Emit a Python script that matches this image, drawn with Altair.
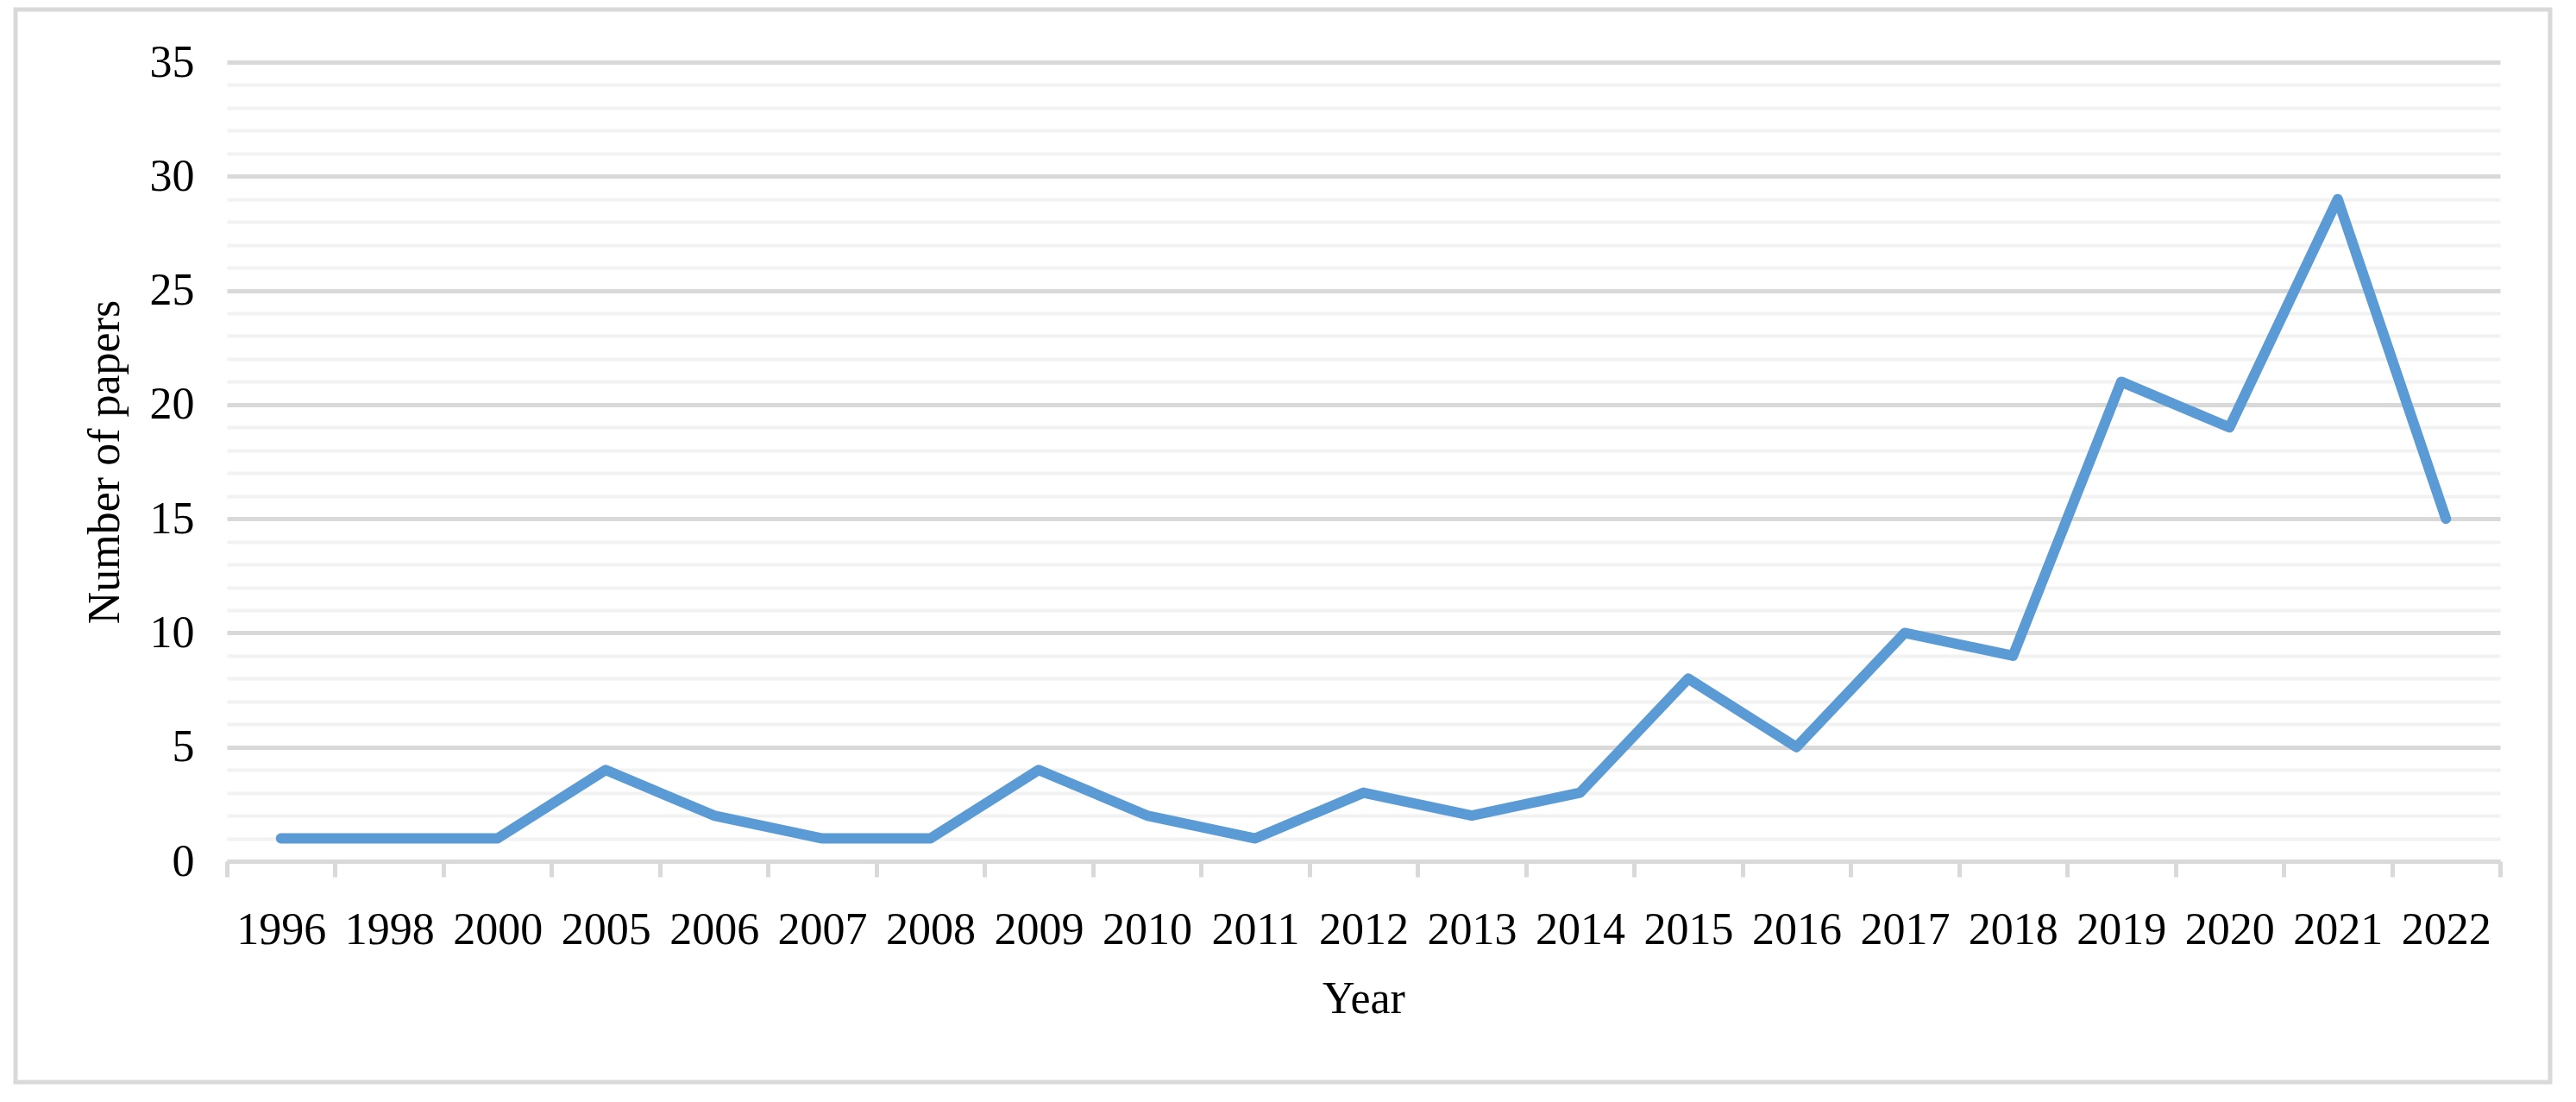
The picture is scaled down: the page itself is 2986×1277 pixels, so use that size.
import altair as alt
import pandas as pd

years = ["1996", "1998", "2000", "2005", "2006", "2007", "2008", "2009", "2010", "2011",
         "2012", "2013", "2014", "2015", "2016", "2017", "2018", "2019", "2020", "2021", "2022"]
papers = [1, 1, 1, 4, 2, 1, 1, 4, 2, 1, 3, 2, 3, 8, 5, 10, 9, 21, 19, 29, 15]
y_ticks = list(range(0, 36))

df = pd.DataFrame({"Year": years, "Papers": papers})

W, H = 2635, 926
FONT = "Liberation Serif"
FS = 52
GRID_MAJOR = "#d9d9d9"
GRID_MINOR = "#f2f2f2"

line = alt.Chart(df).mark_line(
    color="#5b9bd5", strokeWidth=12, strokeCap="round", strokeJoin="round"
).encode(
    x=alt.X(
        "Year:N", sort=years,
        scale=alt.Scale(type="band", paddingInner=0, paddingOuter=0),
        bandPosition=0.5,
        axis=alt.Axis(
            title="Year", labelAngle=0, tickBand="extent", ticks=True, tickSize=18,
            tickColor=GRID_MAJOR, tickWidth=5, domainColor=GRID_MAJOR, domainWidth=5,
            grid=False, labelPadding=36, labelFont=FONT, labelFontSize=FS,
            labelColor="black", titleFont=FONT, titleFontSize=FS, titleFontWeight="normal",
            titleColor="black", titleY=134, titleBaseline="top",
        ),
    ),
    y=alt.Y(
        "Papers:Q",
        scale=alt.Scale(domain=[0, 35], nice=False),
        axis=alt.Axis(
            title="Number of papers", values=y_ticks,
            labelExpr="datum.value % 5 === 0 ? datum.label : ''",
            labelOverlap=False, ticks=False, domain=False,
            grid=True,
            gridColor={"condition": {"test": "datum.value % 5 === 0", "value": GRID_MAJOR},
                       "value": GRID_MINOR},
            gridWidth={"condition": {"test": "datum.value % 5 === 0", "value": 5},
                       "value": 4},
            labelPadding=38, labelFont=FONT, labelFontSize=FS,
            labelColor="black", titleFont=FONT, titleFontSize=FS, titleFontWeight="normal",
            titleColor="black", titleX=-126, titleY=H / 2, titleBaseline="alphabetic",
            titleAlign="center",
        ),
    ),
)

border = alt.Chart(pd.DataFrame({"k": [0]})).mark_rect(
    fillOpacity=0, stroke=GRID_MAJOR, strokeWidth=5
).encode(
    x=alt.value(-245), x2=alt.value(2693), y=alt.value(-61), y2=alt.value(1182)
)

chart = alt.layer(border, line).properties(
    width=W, height=H,
    padding={"left": 255, "top": 64, "right": 70, "bottom": 265},
    autosize=alt.AutoSizeParams(type="none"),
    background="white",
).configure_view(stroke=None)

chart.save("out.html", embed_options={"renderer": "svg", "actions": False})
